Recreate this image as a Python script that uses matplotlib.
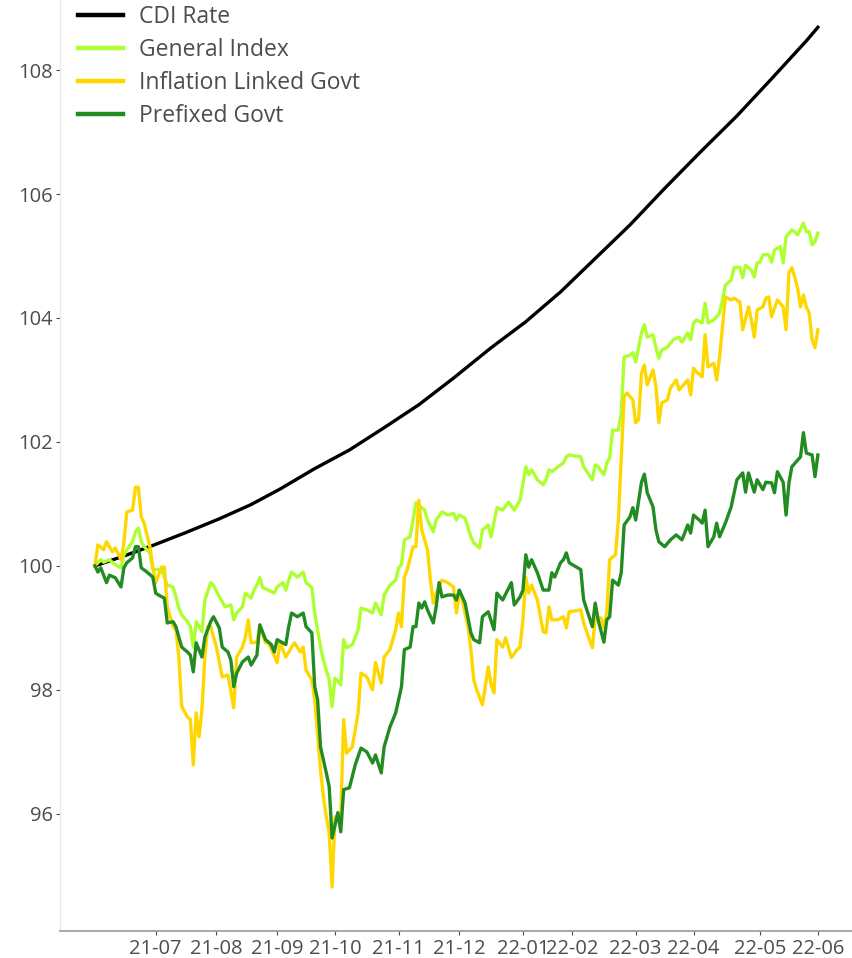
import matplotlib.pyplot as plt

# trading-day index and index level (base 100)
cdi_days = [0, 10, 20, 31, 43, 54, 64, 76, 88, 100, 112, 124, 137, 149, 161, 173,
            185, 197, 209, 222, 234, 246, 250]
cdi_vals = [100.00, 100.16, 100.33, 100.53, 100.76, 100.99, 101.24, 101.57, 101.87, 102.23,
            102.60, 103.03, 103.52, 103.94, 104.42, 104.96, 105.50, 106.09, 106.66, 107.26,
            107.86, 108.47, 108.69]

gen_days = [0, 2, 3, 5, 7, 9, 10, 11, 13, 14, 15, 16, 17, 19, 20, 21, 23, 25, 27, 28,
            29, 30, 32, 33, 34, 35, 37, 38, 40, 41, 43, 45, 47, 48, 49, 51, 52, 54, 55, 56,
            57, 58, 60, 62, 63, 65, 66, 67, 68, 70, 72, 73, 75, 76, 78, 79, 80, 81, 82, 83,
            85, 86, 87, 89, 91, 92, 94, 96, 97, 99, 100, 102, 104, 105, 106, 107, 109, 110, 111, 113,
            114, 115, 117, 118, 120, 122, 124, 125, 126, 128, 130, 131, 133, 134, 136, 137, 139, 141, 143, 145,
            147, 149, 150, 151, 153, 155, 156, 157, 158, 161, 162, 163, 164, 168, 169, 172, 173, 174, 176, 177,
            178, 179, 181, 182, 183, 185, 186, 187, 189, 190, 191, 193, 194, 195, 196, 198, 200, 202, 203, 205,
            206, 207, 208, 210, 211, 212, 214, 215, 216, 217, 218, 220, 221, 223, 224, 225, 227, 228, 229, 230,
            231, 233, 234, 235, 237, 238, 239, 241, 242, 243, 245, 246, 247, 248, 249, 250]
gen_vals = [100.00, 100.10, 100.06, 100.10, 100.02, 99.97, 100.18, 100.26, 100.39, 100.55,
            100.61, 100.39, 100.31, 100.21, 99.94, 99.94, 99.94, 99.69, 99.66, 99.50,
            99.32, 99.21, 99.10, 99.02, 98.69, 99.10, 98.94, 99.45, 99.73, 99.69,
            99.50, 99.34, 99.37, 99.13, 99.24, 99.34, 99.56, 99.48, 99.61, 99.69,
            99.81, 99.65, 99.61, 99.56, 99.66, 99.73, 99.61, 99.77, 99.90, 99.82,
            99.90, 99.73, 99.65, 99.24, 98.69, 98.48, 98.32, 98.16, 97.73, 98.19,
            98.08, 98.81, 98.68, 98.73, 98.97, 99.32, 99.29, 99.24, 99.40, 99.21,
            99.53, 99.69, 99.77, 99.97, 100.02, 100.42, 100.47, 100.74, 101.02, 100.94,
            100.90, 100.74, 100.55, 100.74, 100.87, 100.82, 100.85, 100.74, 100.82, 100.77,
            100.47, 100.37, 100.29, 100.58, 100.66, 100.47, 100.94, 100.90, 101.03, 100.90,
            101.06, 101.60, 101.47, 101.55, 101.39, 101.31, 101.39, 101.55, 101.52, 101.63,
            101.66, 101.76, 101.79, 101.76, 101.60, 101.39, 101.63, 101.60, 101.47, 101.66,
            101.74, 102.19, 102.19, 102.47, 103.37, 103.40, 103.44, 103.29, 103.76, 103.89,
            103.69, 103.73, 103.52, 103.35, 103.48, 103.53, 103.65, 103.69, 103.61, 103.76,
            103.65, 103.92, 103.97, 103.92, 104.24, 103.92, 103.97, 104.02, 104.08, 104.29,
            104.53, 104.61, 104.81, 104.82, 104.65, 104.85, 104.77, 104.66, 104.89, 104.90,
            105.02, 105.02, 104.90, 105.10, 105.15, 104.89, 105.31, 105.42, 105.39, 105.34,
            105.53, 105.39, 105.39, 105.18, 105.23, 105.37]

inf_days = [0, 1, 3, 4, 6, 7, 9, 10, 11, 13, 14, 15, 16, 17, 19, 20, 21, 23, 24, 25,
            27, 28, 29, 30, 32, 33, 34, 35, 36, 37, 38, 39, 40, 42, 44, 46, 48, 49, 51, 52,
            53, 54, 56, 57, 59, 60, 63, 64, 66, 68, 69, 71, 72, 73, 75, 76, 78, 79, 80, 81,
            82, 83, 85, 86, 87, 89, 91, 92, 94, 96, 97, 99, 100, 102, 104, 105, 106, 107, 108, 110,
            111, 112, 113, 115, 116, 117, 118, 120, 122, 124, 125, 126, 127, 129, 130, 131, 132, 134, 136, 137,
            138, 139, 141, 142, 144, 146, 147, 148, 149, 150, 151, 153, 155, 156, 157, 158, 160, 162, 163, 164,
            168, 169, 172, 173, 175, 176, 177, 178, 180, 181, 183, 184, 186, 187, 188, 189, 190, 191, 193, 194,
            195, 196, 198, 199, 201, 202, 203, 205, 206, 207, 208, 210, 211, 212, 214, 215, 216, 217, 218, 220,
            221, 223, 224, 226, 227, 228, 229, 231, 232, 233, 234, 236, 238, 239, 240, 241, 242, 243, 244, 245,
            246, 247, 248, 249, 250]
inf_vals = [100.00, 100.34, 100.26, 100.39, 100.23, 100.29, 100.10, 100.37, 100.87, 100.90,
            101.27, 101.27, 100.79, 100.69, 100.31, 99.98, 99.73, 99.98, 99.98, 99.34,
            99.02, 98.97, 98.53, 97.73, 97.56, 97.52, 96.79, 97.63, 97.24, 97.68,
            98.53, 99.02, 99.02, 98.69, 98.21, 98.24, 97.71, 98.53, 98.69, 98.85,
            99.13, 98.76, 98.77, 99.02, 98.76, 98.76, 98.44, 98.76, 98.53, 98.69,
            98.76, 98.61, 98.69, 98.32, 98.16, 97.84, 96.71, 96.27, 95.95, 95.70,
            94.82, 95.95, 95.95, 97.52, 96.98, 97.08, 97.63, 98.27, 98.21, 98.00,
            98.44, 98.11, 98.53, 98.65, 98.97, 99.24, 99.02, 99.82, 99.94, 100.31,
            100.31, 101.06, 100.58, 100.26, 99.77, 99.40, 99.56, 99.77, 99.73, 99.66,
            99.24, 99.56, 99.45, 99.02, 98.65, 98.16, 98.00, 97.76, 98.37, 98.08,
            97.95, 98.81, 98.69, 98.84, 98.52, 98.65, 98.69, 99.13, 99.82, 99.56,
            99.69, 99.45, 98.94, 98.92, 99.34, 99.13, 99.13, 99.18, 99.00, 99.26,
            99.29, 99.08, 98.68, 99.16, 99.16, 99.00, 99.26, 100.10, 100.18, 100.74,
            102.73, 102.79, 102.68, 102.31, 102.36, 103.11, 103.24, 102.92, 103.16, 102.89,
            102.31, 102.63, 102.68, 102.87, 103.00, 102.84, 102.89, 103.00, 102.76, 103.19,
            103.13, 103.05, 103.73, 103.21, 103.27, 103.00, 103.37, 103.85, 104.34, 104.29,
            104.32, 104.26, 103.81, 104.18, 103.97, 103.69, 104.13, 104.18, 104.32, 104.34,
            104.02, 104.29, 104.18, 103.81, 104.73, 104.81, 104.66, 104.48, 104.18, 104.37,
            104.18, 104.08, 103.65, 103.52, 103.81]

pre_days = [0, 1, 2, 4, 5, 7, 9, 10, 11, 13, 14, 15, 16, 18, 20, 21, 22, 24, 25, 27,
            28, 29, 30, 32, 33, 34, 35, 37, 38, 40, 41, 43, 44, 46, 47, 48, 49, 51, 53, 54,
            56, 57, 59, 61, 62, 63, 66, 67, 68, 70, 72, 73, 75, 76, 77, 78, 79, 80, 81, 82,
            84, 85, 86, 88, 90, 92, 94, 96, 97, 99, 100, 102, 104, 105, 106, 107, 109, 110, 111, 112,
            113, 114, 115, 117, 118, 119, 120, 122, 124, 125, 126, 128, 130, 131, 133, 134, 136, 138, 139, 141,
            144, 145, 147, 148, 149, 150, 151, 153, 155, 157, 158, 159, 161, 162, 163, 164, 168, 169, 172, 173,
            174, 176, 177, 178, 179, 181, 182, 183, 185, 186, 187, 189, 190, 191, 193, 194, 195, 197, 199, 201,
            203, 205, 206, 207, 209, 210, 211, 212, 214, 215, 216, 218, 220, 222, 224, 225, 226, 228, 229, 231,
            232, 234, 235, 236, 238, 239, 240, 241, 244, 245, 246, 248, 249, 250]
pre_vals = [100.00, 99.90, 99.97, 99.73, 99.85, 99.81, 99.66, 99.97, 100.05, 100.13,
            100.31, 100.31, 99.97, 99.90, 99.82, 99.56, 99.53, 99.48, 99.08, 99.10,
            99.02, 98.85, 98.69, 98.61, 98.56, 98.29, 98.76, 98.53, 98.85, 99.10,
            99.18, 99.00, 98.69, 98.61, 98.48, 98.05, 98.27, 98.45, 98.53, 98.40,
            98.56, 99.05, 98.81, 98.73, 98.61, 98.81, 98.73, 99.02, 99.24, 99.18,
            99.24, 99.02, 98.92, 98.05, 97.84, 97.08, 96.87, 96.66, 96.44, 95.61,
            96.02, 95.71, 96.39, 96.42, 96.79, 97.06, 97.00, 96.82, 96.95, 96.66,
            97.08, 97.40, 97.63, 97.84, 98.05, 98.65, 98.69, 99.02, 99.02, 99.40,
            99.32, 99.42, 99.29, 99.08, 99.34, 99.73, 99.50, 99.53, 99.53, 99.45,
            99.61, 99.40, 98.92, 98.81, 98.76, 99.18, 99.26, 98.97, 99.56, 99.45,
            99.73, 99.37, 99.50, 99.61, 100.18, 99.98, 100.10, 99.89, 99.61, 99.61,
            99.89, 99.82, 100.05, 100.10, 100.21, 100.05, 99.94, 99.45, 99.02, 99.40,
            99.13, 98.77, 99.13, 99.18, 99.77, 99.69, 99.89, 100.66, 100.79, 100.94,
            100.74, 101.35, 101.48, 101.18, 100.95, 100.58, 100.39, 100.31, 100.42, 100.50,
            100.42, 100.66, 100.53, 100.82, 100.74, 100.69, 100.90, 100.31, 100.47, 100.69,
            100.47, 100.69, 100.95, 101.39, 101.50, 101.19, 101.50, 101.19, 101.39, 101.23,
            101.35, 101.34, 101.18, 101.52, 101.35, 100.82, 101.34, 101.60, 101.76, 102.15,
            101.82, 101.79, 101.44, 101.79]

month_labels = ['21-07', '21-08', '21-09', '21-10', '21-11', '21-12',
                '22-01', '22-02', '22-03', '22-04', '22-05', '22-06']
month_days = [21, 42, 63, 83, 105, 126, 148, 165, 187, 207, 230, 250]

plt.rcParams['font.family'] = ['Open Sans', 'DejaVu Sans']

fig = plt.figure(figsize=(8.52, 9.58), dpi=100)
ax = fig.add_axes([0.0704, 0.0282, 0.9296, 0.9718])

ax.plot(cdi_days, cdi_vals, color='black', lw=2.4, label='CDI Rate')
ax.plot(gen_days, gen_vals, color='#adff2f', lw=2.4, label='General Index')
ax.plot(inf_days, inf_vals, color='#ffd700', lw=2.4, label='Inflation Linked Govt')
ax.plot(pre_days, pre_vals, color='#228b22', lw=2.4, label='Prefixed Govt')

ax.set_xlim(-12.1, 261.8)
ax.set_ylim(94.11, 109.13)
ax.set_yticks([96, 98, 100, 102, 104, 106, 108])
ax.set_xticks(month_days)
ax.set_xticklabels(month_labels)

for s in ['top', 'right']:
    ax.spines[s].set_visible(False)
ax.spines['left'].set_color('#e6e6e6')
ax.spines['bottom'].set_color('#999999')
ax.spines['bottom'].set_linewidth(1.2)
ax.tick_params(axis='both', colors='#4d4d4d', labelsize=14.5, length=3, width=0.8)
ax.tick_params(axis='y', pad=2)
ax.tick_params(axis='x', pad=3)

leg = ax.legend(loc='upper left', bbox_to_anchor=(78 / 852, 1 - 5 / 958),
                bbox_transform=fig.transFigure, frameon=False, fontsize=16.5,
                handlelength=1.95, handletextpad=0.7, labelspacing=0.39,
                borderpad=0, borderaxespad=0)
for t in leg.get_texts():
    t.set_color('#4d4d4d')
for l in leg.get_lines():
    l.set_linewidth(3.2)

fig.savefig('out.png', dpi=100)
